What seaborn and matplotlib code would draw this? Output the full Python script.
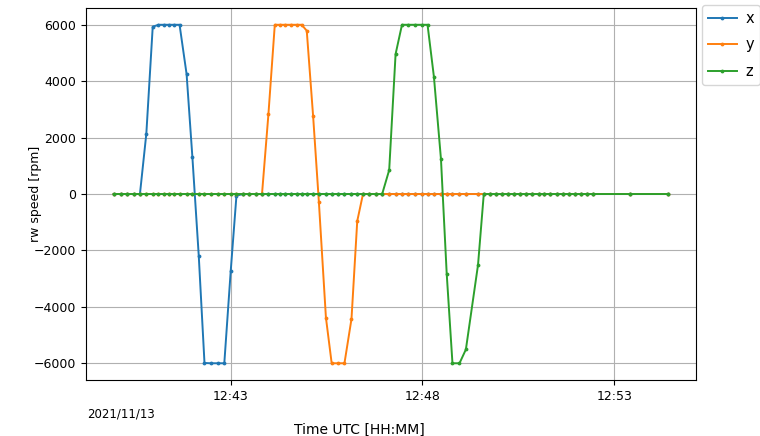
import matplotlib
matplotlib.use("Agg")
import matplotlib.pyplot as plt
import matplotlib.dates as mdates
import seaborn as sns
import pandas as pd
import numpy as np

# seconds after 2021-11-13 12:40:00 UTC
t_sec = [-3, 8, 18, 28,
         38, 48, 58, 67, 75, 83, 91, 100, 111, 120, 130, 139, 149, 160, 170, 180, 189,
         199, 209, 219,
         229, 239, 249, 257, 265, 274, 283, 291, 299, 309, 318, 329, 338, 348, 358, 369, 378, 387,
         397, 407,
         417, 428, 438, 448, 458, 469, 479, 488, 498, 509, 518, 527, 538, 548, 567, 576,
         586, 595, 604, 614, 624, 633, 642, 652, 662, 671, 680, 690, 700, 709, 718, 728, 738, 747,
         805, 864]

x_rpm = ([0] * 4 +
         [0, 2140, 5930, 6000, 6000, 6000, 6000, 6000, 4250, 1330, -2180, -5990, -6000, -6000, -6000, -2740, -60] +
         [0] * 59)
y_rpm = ([0] * 24 +
         [0, 2820, 6000, 6000, 6000, 6000, 6000, 6000, 5790, 2750, -290, -4380, -6000, -6000, -6000, -4430, -960, 0] +
         [0] * 38)
z_rpm = ([0] * 44 +
         [0, 850, 4960, 6000, 6000, 6000, 6000, 6000, 4150, 1240, -2830, -6000, -6000, -5510, -2510, 0] +
         [0] * 20)

series_names = ["x", "y", "z"]
y_ticks = [-6000, -4000, -2000, 0, 2000, 4000, 6000]
date_label = "2021/11/13"

base = pd.Timestamp("2021-11-13 12:40:00")
times = base + pd.to_timedelta(t_sec, unit="s")

fig = plt.figure(figsize=(7.6, 4.36), dpi=100)
ax = fig.add_axes([0.1132, 0.128, 0.802, 0.854])

colors = ["#1f77b4", "#ff7f0e", "#2ca02c"]
for name, vals, c in zip(series_names, [x_rpm, y_rpm, z_rpm], colors):
    df = pd.DataFrame({"time": times, "rpm": vals})
    sns.lineplot(data=df, x="time", y="rpm", ax=ax, color=c, label=name,
                 marker=".", markersize=5.5, linewidth=1.4, markeredgewidth=0)

ax.grid(True, color="#b0b0b0", linewidth=0.8)
ax.set_yticks(y_ticks)
ax.xaxis.set_major_locator(mdates.MinuteLocator(byminute=range(3, 60, 5)))
ax.xaxis.set_major_formatter(mdates.DateFormatter("%H:%M"))
ax.tick_params(labelsize=9)
ax.set_ylabel("rw speed [rpm]", fontsize=9)
ax.yaxis.set_label_coords(-0.073, 0.5)
ax.set_xlabel("Time UTC [HH:MM]", fontsize=10)
ax.xaxis.set_label_coords((360 - 86) / 610, -0.115)
ax.text(0.002, -0.072, date_label, transform=ax.transAxes, fontsize=8.5,
        ha="left", va="top")

ax.legend(loc="upper left", bbox_to_anchor=(1.003, 1.02), fontsize=10.5,
          labelspacing=0.8, handlelength=2.0, handletextpad=0.6,
          borderpad=0.4, frameon=True, borderaxespad=0.3)

fig.savefig("out.png", dpi=100)
